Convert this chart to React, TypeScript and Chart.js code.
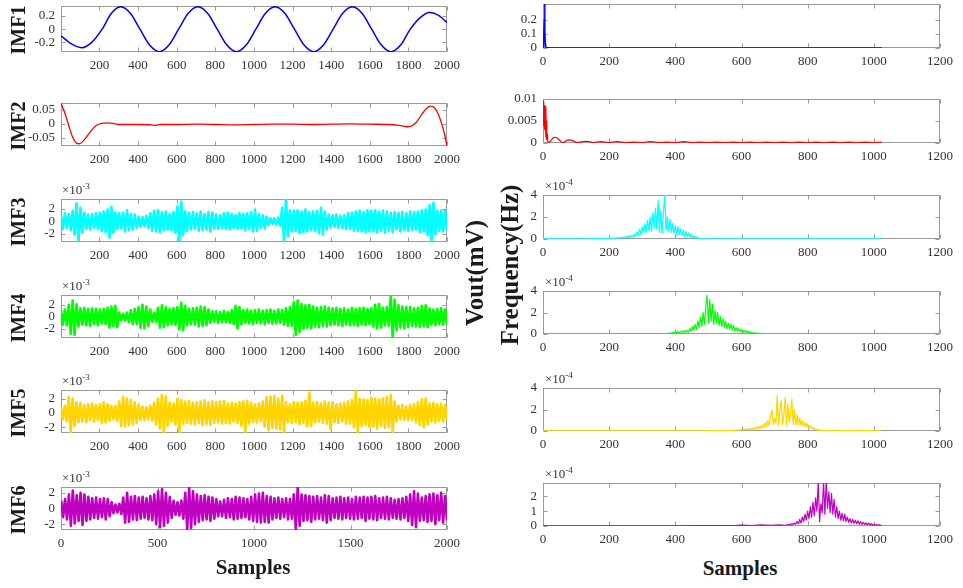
import React, { useEffect, useRef } from 'react';
import { Chart, registerables } from 'chart.js';
Chart.register(...registerables);

const FONT = '"Liberation Serif", "Times New Roman", serif';

// ---------- Left column: IMF time series ----------
const imf1Samples = [1, 60, 110, 160, 214, 262, 310, 360, 410, 460, 510, 560, 610, 660, 710, 760, 810, 860, 910, 960, 1010, 1060, 1110, 1160, 1210, 1260, 1310, 1360, 1410, 1460, 1510, 1560, 1610, 1660, 1710, 1760, 1810, 1860, 1910, 1960, 2000];
const imf1Values = [-0.10, -0.23, -0.28, -0.20, 0.0, 0.24, 0.34, 0.24, 0.0, -0.24, -0.34, -0.24, 0.0, 0.24, 0.34, 0.24, 0.0, -0.24, -0.34, -0.24, 0.0, 0.24, 0.34, 0.24, 0.0, -0.24, -0.34, -0.24, 0.0, 0.24, 0.34, 0.24, 0.0, -0.24, -0.34, -0.24, 0.0, 0.17, 0.25, 0.2, 0.1];

const imf2Samples = [1, 15, 30, 45, 60, 75, 90, 105, 120, 140, 160, 185, 210, 240, 270, 300, 400, 470, 490, 520, 600, 700, 800, 900, 1000, 1100, 1200, 1300, 1400, 1500, 1600, 1700, 1750, 1790, 1810, 1840, 1870, 1895, 1915, 1935, 1955, 1975, 1990, 2000];
const imf2Values = [0.075, 0.05, 0.02, -0.015, -0.045, -0.064, -0.071, -0.068, -0.058, -0.04, -0.022, -0.005, 0.002, 0.004, 0.002, -0.002, -0.002, -0.003, -0.005, -0.002, -0.002, -0.001, -0.002, -0.003, -0.002, -0.001, -0.001, -0.002, -0.001, 0.0, -0.001, -0.002, -0.005, -0.01, -0.009, 0.005, 0.035, 0.056, 0.064, 0.058, 0.035, -0.005, -0.045, -0.079];

// values in units of 1e-3, one every ~10 samples
const imf3Values = [
  1.0, -1.2, 1.3, -1.1, 1.2, -1.4, 1.7, -2.1, 2.9, -3.3,
  2.2, -1.8, 1.4, -1.2, 1.1, -1.3, 1.2, -1.0, 1.3, -1.2,
  1.4, -1.5, 1.6, -1.7, 1.9, -2.6, 2.3, -1.8, 1.4, -1.2,
  1.3, -1.1, 1.4, -1.6, 1.8, -1.4, 1.2, -1.3, 1.1, -1.0,
  0.8, -0.9, 0.7, -0.8, 0.9, -1.0, 1.3, -1.5, 1.7, -1.6,
  1.8, -1.7, 1.5, -1.4, 1.6, -1.3, 1.2, -1.4, 1.5, -1.8,
  2.4, -3.3, 3.2, -2.2, 1.6, -1.5, 1.4, -1.3, 1.5, -1.2,
  1.3, -1.5, 1.6, -1.4, 1.2, -1.3, 1.5, -1.6, 1.4, -1.2,
  1.1, -1.2, 1.0, -1.1, 1.3, -1.2, 1.4, -1.3, 1.2, -1.1,
  1.0, -1.2, 1.3, -1.1, 1.2, -1.4, 1.3, -1.2, 1.5, -1.6,
  1.9, -1.5, 1.2, -1.1, 1.0, -1.2, 0.8, -0.6, 0.5, -0.4,
  0.5, -0.5, 0.6, -0.7, 2.2, -3.3, 3.6, -2.4, 1.8, -1.6,
  1.7, -1.5, 1.8, -1.9, 1.6, -1.7, 1.9, -1.6, 1.5, -1.4,
  1.6, -1.5, 1.7, -1.9, 2.2, -2.1, 1.6, -1.3, 1.1, -1.0,
  1.0, -0.9, 1.1, -1.0, 0.9, -1.1, 1.0, -1.2, 1.3, -1.2,
  1.4, -1.5, 1.6, -1.5, 1.7, -1.6, 1.5, -1.7, 1.8, -1.6,
  1.7, -1.6, 1.8, -1.7, 1.6, -1.5, 1.7, -1.8, 1.6, -1.5,
  1.4, -1.7, 1.5, -1.3, 1.4, -1.6, 1.5, -1.4, 1.3, -1.5,
  1.6, -1.4, 1.5, -1.3, 1.6, -1.7, 1.8, -1.6, 1.9, -2.2,
  2.6, -3.3, 3.0, -2.1, 1.7, -1.5, 1.8, -1.6, 1.7, -1.4,
];

const imf4Values = [
  1.1, -1.3, 1.2, -1.4, 2.0, -2.8, 2.7, -3.0, 2.1, -1.6,
  1.4, -1.3, 1.5, -1.4, 1.3, -1.5, 1.4, -1.2, 1.3, -1.4,
  1.2, -1.1, 1.3, -1.2, 1.5, -1.8, 1.7, -1.6, 1.8, -1.7,
  0.7, -0.6, 0.5, -0.6, 0.7, -0.9, 1.1, -1.2, 1.3, -1.2,
  1.6, -1.8, 2.0, -1.9, 1.7, -1.5, 1.2, -0.8, 0.7, -0.8,
  1.5, -1.8, 1.9, -1.7, 1.6, -1.4, 1.3, -1.2, 1.4, -1.3,
  1.6, -2.1, 2.3, -2.2, 1.8, -1.4, 1.3, -1.2, 1.4, -1.3,
  1.5, -1.6, 1.7, -1.5, 1.6, -1.4, 1.2, -1.0, 0.9, -0.8,
  0.9, -1.0, 0.8, -0.9, 1.0, -0.9, 0.8, -1.0, 1.1, -1.2,
  1.8, -1.9, 1.6, -1.2, 1.1, -1.0, 1.2, -1.1, 1.0, -1.2,
  1.1, -1.0, 1.2, -1.1, 1.0, -1.2, 1.1, -1.0, 1.2, -1.1,
  1.0, -1.1, 1.2, -1.0, 1.1, -1.3, 1.4, -1.5, 1.6, -1.5,
  2.4, -3.0, 2.7, -2.5, 2.1, -2.0, 1.9, -1.8, 2.0, -1.9,
  1.7, -1.6, 1.5, -1.7, 1.6, -1.5, 1.7, -1.6, 1.5, -1.4,
  1.4, -1.3, 1.5, -1.4, 1.3, -1.5, 1.4, -1.3, 1.2, -1.4,
  1.5, -1.4, 1.3, -1.5, 1.4, -1.3, 1.5, -1.4, 1.3, -1.2,
  1.4, -1.6, 2.0, -1.9, 2.1, -1.8, 1.5, -1.4, 1.6, -1.5,
  3.4, -3.5, 2.8, -2.2, 1.9, -1.8, 1.7, -1.9, 1.6, -1.7,
  1.6, -1.5, 1.4, -1.6, 1.5, -1.7, 1.8, -1.6, 1.9, -1.7,
  1.4, -1.3, 1.2, -1.4, 1.3, -1.2, 1.4, -1.3, 1.2, -1.3,
];

const imf5Values = [
  0.8, -0.9, 1.0, -1.2, 2.2, -2.7, 2.0, -1.8, 1.5, -1.3,
  1.4, -1.2, 1.1, -1.3, 1.2, -1.0, 1.3, -1.2, 1.1, -1.0,
  1.2, -1.4, 1.5, -1.3, 1.2, -1.1, 1.0, -0.9, 1.0, -1.1,
  1.6, -1.8, 2.2, -1.9, 2.0, -1.7, 1.8, -1.6, 1.5, -1.4,
  1.2, -1.0, 0.9, -1.0, 0.8, -0.9, 1.0, -1.1, 1.4, -1.6,
  2.0, -2.2, 2.5, -2.7, 2.3, -1.8, 1.4, -1.2, 1.3, -1.6,
  2.0, -2.6, 1.8, -1.5, 1.6, -1.4, 1.7, -1.5, 1.4, -1.6,
  1.5, -1.4, 1.6, -1.7, 1.8, -1.6, 1.5, -1.7, 1.6, -1.4,
  1.5, -1.3, 1.6, -1.5, 1.7, -1.4, 1.3, -1.5, 1.4, -1.2,
  1.3, -1.4, 1.5, -1.8, 1.6, -2.6, 1.7, -1.5, 1.4, -1.3,
  1.2, -1.4, 1.3, -1.2, 1.6, -1.9, 2.2, -2.4, 2.3, -2.1,
  2.4, -2.2, 2.0, -2.3, 2.4, -2.7, 1.5, -1.3, 1.2, -1.4,
  1.5, -1.3, 1.4, -1.6, 1.5, -1.4, 1.7, -1.9, 2.8, -1.8,
  1.4, -1.3, 1.5, -1.2, 1.3, -1.4, 1.6, -1.5, 1.4, -2.3,
  1.5, -1.3, 1.2, -1.4, 1.3, -1.2, 1.4, -1.5, 1.6, -1.5,
  1.8, -2.0, 3.2, -2.7, 2.0, -1.8, 1.9, -1.7, 1.8, -2.0,
  2.1, -1.9, 2.0, -2.2, 1.9, -1.8, 2.0, -2.1, 2.2, -2.0,
  2.5, -2.7, 1.6, -1.2, 1.0, -0.9, 1.1, -1.0, 0.9, -1.0,
  1.1, -1.0, 1.2, -1.3, 1.5, -1.7, 1.9, -2.0, 2.0, -1.6,
  1.3, -1.2, 1.4, -1.3, 1.2, -1.1, 1.3, -1.2, 1.1, -1.0,
];

const imf6Values = [
  1.0, -1.1, 1.2, -1.4, 1.8, -2.2, 2.3, -1.9, 1.7, -1.6,
  2.0, -2.1, 1.8, -1.6, 1.5, -1.4, 1.3, -1.2, 1.4, -1.3,
  1.2, -1.1, 1.3, -1.4, 1.2, -1.0, 0.8, -0.6, 0.5, -0.5,
  0.6, -0.7, 1.4, -1.8, 2.0, -1.7, 1.5, -1.4, 1.6, -1.5,
  1.4, -1.3, 1.5, -1.2, 1.3, -1.4, 1.6, -1.5, 1.8, -2.0,
  2.2, -2.4, 2.5, -2.2, 2.0, -1.8, 1.5, -1.2, 1.0, -0.8,
  0.8, -0.9, 1.0, -1.3, 2.0, -2.6, 2.7, -2.5, 2.2, -2.0,
  1.8, -1.7, 1.6, -1.5, 1.7, -1.4, 1.5, -1.6, 1.4, -1.3,
  1.2, -1.0, 0.9, -1.0, 1.1, -1.2, 1.3, -1.1, 1.2, -1.4,
  1.5, -1.3, 1.4, -1.2, 1.3, -1.1, 1.2, -1.4, 1.5, -1.6,
  1.8, -1.7, 1.9, -1.8, 2.0, -1.7, 1.6, -1.8, 1.5, -1.4,
  1.3, -1.2, 1.4, -1.3, 1.2, -1.1, 1.3, -1.4, 1.2, -1.3,
  1.8, -2.6, 2.7, -2.2, 1.8, -1.6, 1.7, -1.5, 1.6, -1.7,
  1.5, -1.4, 1.6, -1.3, 1.4, -1.5, 1.7, -1.8, 1.6, -1.5,
  1.3, -1.2, 1.4, -1.3, 1.5, -1.4, 1.3, -1.2, 1.4, -1.3,
  1.2, -1.4, 1.5, -1.3, 1.4, -1.2, 1.5, -1.6, 1.4, -1.3,
  1.5, -1.4, 1.6, -1.5, 1.3, -1.2, 1.4, -1.3, 1.5, -1.4,
  1.3, -1.2, 1.1, -1.3, 1.2, -1.4, 1.3, -1.2, 1.5, -1.6,
  1.8, -2.1, 2.2, -2.4, 1.9, -1.6, 1.4, -1.5, 1.6, -1.7,
  1.8, -1.6, 1.9, -2.0, 1.7, -1.5, 2.0, -1.8, 1.6, -1.5,
];

// ---------- Right column: spectra ----------
const spec1Bins = [0, 1, 2, 3, 4, 5, 6, 7, 8, 10, 14, 20, 40, 100, 300, 600, 1024];
const spec1Values = [0.002, 0.01, 0.02, 0.06, 0.2, 0.31, 0.12, 0.03, 0.01, 0.004, 0.002, 0.001, 0.0005, 0.0003, 0.0003, 0.0002, 0.0002];

const spec2Bins = [0, 1, 2, 3, 4, 5, 6, 7, 8, 9, 10, 11, 12, 13, 14, 16, 20, 24, 30, 36, 42, 48, 54, 60, 66, 72, 80, 88, 96, 104, 112, 120, 130, 140, 150, 175, 200, 225, 250, 275, 300, 325, 350, 375, 400, 425, 450, 475, 500, 525, 550, 575, 600, 625, 650, 675, 700, 725, 750, 775, 800, 825, 850, 875, 900, 925, 950, 975, 1000, 1024];
const spec2Values = [0.004, 0.0095, 0.006, 0.009, 0.004, 0.0085, 0.003, 0.008, 0.0015, 0.0082, 0.001, 0.005, 0.0008, 0.002, 0.0005, 0.0002, 0.0002, 0.0006, 0.0011, 0.0013, 0.0012, 0.0008, 0.0003, 0.0001, 0.0003, 0.0006, 0.0007, 0.0006, 0.0003, 0.0001, 0.0002, 0.0003, 0.0004, 0.0003, 0.0001, 0.0003, 0.0001, 0.0003, 0.0001, 0.0002, 0.0001, 0.0003, 0.0001, 0.0002, 0.0001, 0.0003, 0.0001, 0.0002, 0.0001, 0.0002, 0.0001, 0.0002, 0.0001, 0.0002, 0.0001, 0.0002, 0.0001, 0.0002, 0.0001, 0.0002, 0.0001, 0.0002, 0.0001, 0.0002, 0.0001, 0.0002, 0.0001, 0.0002, 0.0001, 0.0002];

// spectra of IMF3..IMF6 (units of 1e-4): quiet baseline points + a dense band every 4 bins
const spec3PreBins = [0, 40, 80, 120, 160, 190];
const spec3PreValues = [0.01, 0.02, 0.01, 0.02, 0.03, 0.04];
const spec3BandStart = 196;
const spec3Band = [
  0.05, 0.02, 0.07, 0.03, 0.08, 0.04, 0.10, 0.05, 0.12, 0.06,
  0.15, 0.07, 0.18, 0.10, 0.22, 0.12, 0.28, 0.14, 0.35, 0.18,
  0.45, 0.2, 0.65, 0.3, 0.9, 0.4, 1.1, 0.5, 1.4, 0.6,
  1.7, 0.8, 2.0, 0.7, 2.4, 1.0, 2.8, 0.9, 3.5, 0.6,
  2.6, 0.5, 2.4, 4.0, 0.8, 2.0, 0.7, 1.8, 0.6, 1.4,
  0.5, 1.2, 0.4, 1.1, 0.4, 0.9, 0.3, 0.8, 0.25, 0.7,
  0.2, 0.55, 0.15, 0.45, 0.1, 0.3, 0.08, 0.2, 0.05, 0.1,
  0.03, 0.04,
];
const spec3PostBins = [500, 560, 640, 720, 800, 900, 1024];
const spec3PostValues = [0.02, 0.01, 0.01, 0.005, 0.005, 0.003, 0.003];

const spec4PreBins = [0, 60, 120, 200, 280, 340, 376];
const spec4PreValues = [0.01, 0.02, 0.01, 0.02, 0.03, 0.03, 0.04];
const spec4BandStart = 380;
const spec4Band = [
  0.05, 0.1, 0.04, 0.15, 0.06, 0.2, 0.08, 0.25, 0.1, 0.2,
  0.28, 0.12, 0.3, 0.15, 0.35, 0.18, 0.5, 0.25, 0.7, 0.35,
  0.9, 0.4, 1.2, 0.6, 1.6, 0.7, 2.0, 0.9, 2.6, 3.6,
  1.0, 3.2, 1.2, 2.8, 0.9, 2.2, 1.0, 2.0, 0.8, 1.6,
  0.7, 1.4, 0.6, 1.2, 0.5, 1.0, 0.45, 0.9, 0.35, 0.8,
  0.3, 0.6, 0.25, 0.5, 0.2, 0.4, 0.15, 0.35, 0.12, 0.3,
  0.1, 0.25, 0.08, 0.15, 0.06, 0.12, 0.05, 0.1, 0.03, 0.06,
];
const spec4PostBins = [680, 760, 860, 960, 1024];
const spec4PostValues = [0.02, 0.01, 0.01, 0.005, 0.005];

const spec5PreBins = [0, 100, 200, 300, 400, 480, 530, 556];
const spec5PreValues = [0.005, 0.01, 0.01, 0.005, 0.01, 0.02, 0.03, 0.04];
const spec5BandStart = 560;
const spec5Band = [
  0.05, 0.02, 0.06, 0.03, 0.08, 0.04, 0.1, 0.05, 0.12, 0.06,
  0.15, 0.07, 0.18, 0.08, 0.2, 0.1, 0.25, 0.12, 0.3, 0.15,
  0.35, 0.15, 0.4, 0.2, 0.45, 0.25, 0.6, 0.3, 0.8, 0.4,
  1.0, 0.5, 1.4, 2.0, 0.6, 1.2, 0.7, 3.3, 0.5, 2.0,
  2.8, 0.6, 1.5, 3.1, 0.5, 2.5, 0.8, 1.6, 3.0, 0.6,
  2.0, 0.5, 1.5, 0.6, 1.2, 0.5, 1.0, 0.4, 0.8, 0.35,
  0.7, 0.3, 0.5, 0.2, 0.35, 0.15, 0.25, 0.08, 0.12, 0.05,
  0.08, 0.03, 0.05, 0.02, 0.03,
];
const spec5PostBins = [880, 900, 920, 950, 980, 1000, 1024];
const spec5PostValues = [0.02, 0.04, 0.03, 0.05, 0.03, 0.02, 0.01];

const spec6PreBins = [0, 100, 200, 300, 400, 500, 580, 600, 630, 660, 690, 715, 730];
const spec6PreValues = [0.01, 0.01, 0.01, 0.01, 0.015, 0.02, 0.03, 0.06, 0.03, 0.07, 0.05, 0.08, 0.05];
const spec6BandStart = 740;
const spec6Band = [
  0.08, 0.12, 0.06, 0.15, 0.1, 0.2, 0.12, 0.3, 0.15, 0.45,
  0.2, 0.6, 0.3, 0.8, 0.4, 1.0, 0.5, 1.3, 0.6, 1.6,
  0.7, 1.9, 1.0, 3.0, 0.3, 1.5, 0.9, 3.0, 0.8, 3.0,
  1.2, 2.3, 0.9, 2.2, 0.8, 1.8, 0.6, 1.3, 0.5, 1.0,
  0.4, 0.85, 0.35, 0.8, 0.3, 0.6, 0.25, 0.5, 0.2, 0.45,
  0.18, 0.38, 0.15, 0.35, 0.12, 0.3, 0.1, 0.25, 0.1, 0.22,
  0.08, 0.2, 0.07, 0.15, 0.06, 0.12, 0.05, 0.1, 0.04, 0.08,
  0.05, 0.04,
];
const spec6PostBins: number[] = [];
const spec6PostValues: number[] = [];

// ---------- ticks ----------
const sampleTicks = [200, 400, 600, 800, 1000, 1200, 1400, 1600, 1800, 2000];
const sampleTicks6 = [0, 500, 1000, 1500, 2000];
const freqTicks = [0, 200, 400, 600, 800, 1000, 1200];

const imfNames = ['IMF1', 'IMF2', 'IMF3', 'IMF4', 'IMF5', 'IMF6'];
const imfColors = ['#0000ff', '#ff0000', '#00ffff', '#00ff00', '#ffd400', '#c000c0'];

type Pt = { x: number; y: number };
const pairs = (xs: number[], ys: number[]): Pt[] => xs.map((x, i) => ({ x, y: ys[i] }));
const evenly = (ys: number[], start: number, end: number): Pt[] =>
  ys.map((y, i) => ({ x: start + (i * (end - start)) / (ys.length - 1), y }));
const band = (pre: Pt[], start: number, vals: number[], post: Pt[]): Pt[] => [
  ...pre,
  ...vals.map((y, i) => ({ x: start + i * 4, y })),
  ...post,
];

const PADL = 50, PADR = 22, PADT = 10, PADB = 26;

type Panel = {
  left: number; top: number; width: number; height: number;
  xMin: number; xMax: number; xTicks: number[];
  yMin: number; yMax: number; yTicks: number[];
  points: Pt[]; color: string; lineWidth: number; smooth?: boolean;
};

const framePlugin = {
  id: 'matlabFrame',
  beforeDatasetsDraw(chart: any, _args: any, opts: any) {
    const { ctx, chartArea: a, scales } = chart;
    const L = Math.round(a.left) + 0.5, R = Math.round(a.right) - 0.5;
    const T = Math.round(a.top) + 0.5, B = Math.round(a.bottom) - 0.5;
    ctx.save();
    ctx.strokeStyle = '#9a9a9a';
    ctx.lineWidth = 1;
    ctx.strokeRect(L, T, R - L, B - T);
    ctx.beginPath();
    for (const v of opts.xTicks as number[]) {
      const px = Math.round(scales.x.getPixelForValue(v)) + 0.5;
      ctx.moveTo(px, B); ctx.lineTo(px, B - 4);
      ctx.moveTo(px, T); ctx.lineTo(px, T + 4);
    }
    for (const v of opts.yTicks as number[]) {
      const py = Math.round(scales.y.getPixelForValue(v)) + 0.5;
      ctx.moveTo(L, py); ctx.lineTo(L + 4, py);
      ctx.moveTo(R, py); ctx.lineTo(R - 4, py);
    }
    ctx.stroke();
    ctx.restore();
  },
};

function PanelChart({ p }: { p: Panel }) {
  const ref = useRef<HTMLCanvasElement>(null);
  const W = p.width + PADL + PADR;
  const H = p.height + PADT + PADB;
  useEffect(() => {
    const tickFont = { family: FONT, size: 13 };
    const chart = new Chart(ref.current as HTMLCanvasElement, {
      type: 'line',
      data: {
        datasets: [
          {
            data: p.points as any,
            borderColor: p.color,
            borderWidth: p.lineWidth,
            pointRadius: 0,
            fill: false,
            tension: 0,
            cubicInterpolationMode: p.smooth ? 'monotone' : 'default',
            borderJoinStyle: 'round',
          },
        ],
      },
      options: {
        responsive: false,
        animation: false,
        events: [],
        layout: { padding: { left: 0, right: PADR, top: PADT, bottom: 0 } },
        plugins: {
          legend: { display: false },
          tooltip: { enabled: false },
          matlabFrame: { xTicks: p.xTicks, yTicks: p.yTicks },
        } as any,
        scales: {
          x: {
            type: 'linear',
            min: p.xMin,
            max: p.xMax,
            grid: { display: false, drawTicks: false },
            border: { display: false },
            ticks: {
              font: tickFont, color: '#333', padding: 6, maxRotation: 0, autoSkip: false,
              callback: (v: any) => String(v),
            },
            afterBuildTicks: (s: any) => { s.ticks = p.xTicks.map((v) => ({ value: v })); },
            afterFit: (s: any) => { s.height = PADB; s.paddingLeft = 0; s.paddingRight = 0; },
          },
          y: {
            type: 'linear',
            min: p.yMin,
            max: p.yMax,
            grid: { display: false, drawTicks: false },
            border: { display: false },
            ticks: {
              font: tickFont, color: '#333', padding: 6, autoSkip: false,
              callback: (v: any) => String(v),
            },
            afterBuildTicks: (s: any) => { s.ticks = p.yTicks.map((v) => ({ value: v })); },
            afterFit: (s: any) => { s.width = PADL; s.paddingTop = 0; s.paddingBottom = 0; },
          },
        },
      } as any,
      plugins: [framePlugin],
    });
    return () => chart.destroy();
  }, [p]);
  return (
    <canvas
      ref={ref}
      width={W}
      height={H}
      style={{ position: 'absolute', left: p.left - PADL, top: p.top - PADT, width: W, height: H }}
    />
  );
}

const leftBoxes = [
  { top: 6, height: 46 }, { top: 103, height: 43 }, { top: 199, height: 43 },
  { top: 295, height: 43 }, { top: 390, height: 43 }, { top: 487, height: 43 },
];
const rightBoxes = [
  { top: 4, height: 44 }, { top: 99, height: 44 }, { top: 195, height: 44 },
  { top: 291, height: 43 }, { top: 388, height: 43 }, { top: 483, height: 43 },
];

const LEFT_X = 61, LEFT_W = 386, RIGHT_X = 543, RIGHT_W = 397;
const DENSE_W = 2.6;

const leftPanels: Panel[] = [
  { ...leftBoxes[0], left: LEFT_X, width: LEFT_W, xMin: 1, xMax: 2000, xTicks: sampleTicks, yMin: -0.345, yMax: 0.35, yTicks: [-0.2, 0, 0.2], points: pairs(imf1Samples, imf1Values), color: imfColors[0], lineWidth: 1.5, smooth: true },
  { ...leftBoxes[1], left: LEFT_X, width: LEFT_W, xMin: 1, xMax: 2000, xTicks: sampleTicks, yMin: -0.079, yMax: 0.075, yTicks: [-0.05, 0, 0.05], points: pairs(imf2Samples, imf2Values), color: imfColors[1], lineWidth: 1.3, smooth: true },
  { ...leftBoxes[2], left: LEFT_X, width: LEFT_W, xMin: 1, xMax: 2000, xTicks: sampleTicks, yMin: -3.3, yMax: 3.6, yTicks: [-2, 0, 2], points: evenly(imf3Values, 1, 2000), color: imfColors[2], lineWidth: DENSE_W },
  { ...leftBoxes[3], left: LEFT_X, width: LEFT_W, xMin: 1, xMax: 2000, xTicks: sampleTicks, yMin: -3.5, yMax: 3.6, yTicks: [-2, 0, 2], points: evenly(imf4Values, 1, 2000), color: imfColors[3], lineWidth: DENSE_W },
  { ...leftBoxes[4], left: LEFT_X, width: LEFT_W, xMin: 1, xMax: 2000, xTicks: sampleTicks, yMin: -2.8, yMax: 3.2, yTicks: [-2, 0, 2], points: evenly(imf5Values, 1, 2000), color: imfColors[4], lineWidth: DENSE_W },
  { ...leftBoxes[5], left: LEFT_X, width: LEFT_W, xMin: 0, xMax: 2000, xTicks: sampleTicks6, yMin: -2.75, yMax: 2.75, yTicks: [-2, 0, 2], points: evenly(imf6Values, 1, 2000), color: imfColors[5], lineWidth: DENSE_W },
];

const rightPanels: Panel[] = [
  { ...rightBoxes[0], left: RIGHT_X, width: RIGHT_W, xMin: 0, xMax: 1200, xTicks: freqTicks, yMin: 0, yMax: 0.31, yTicks: [0, 0.1, 0.2], points: pairs(spec1Bins, spec1Values), color: imfColors[0], lineWidth: 1.5 },
  { ...rightBoxes[1], left: RIGHT_X, width: RIGHT_W, xMin: 0, xMax: 1200, xTicks: freqTicks, yMin: 0, yMax: 0.01, yTicks: [0, 0.005, 0.01], points: pairs(spec2Bins, spec2Values), color: imfColors[1], lineWidth: 1.2 },
  { ...rightBoxes[2], left: RIGHT_X, width: RIGHT_W, xMin: 0, xMax: 1200, xTicks: freqTicks, yMin: 0, yMax: 4, yTicks: [0, 2, 4], points: band(pairs(spec3PreBins, spec3PreValues), spec3BandStart, spec3Band, pairs(spec3PostBins, spec3PostValues)), color: imfColors[2], lineWidth: 1.2 },
  { ...rightBoxes[3], left: RIGHT_X, width: RIGHT_W, xMin: 0, xMax: 1200, xTicks: freqTicks, yMin: 0, yMax: 4, yTicks: [0, 2, 4], points: band(pairs(spec4PreBins, spec4PreValues), spec4BandStart, spec4Band, pairs(spec4PostBins, spec4PostValues)), color: imfColors[3], lineWidth: 1.2 },
  { ...rightBoxes[4], left: RIGHT_X, width: RIGHT_W, xMin: 0, xMax: 1200, xTicks: freqTicks, yMin: 0, yMax: 4, yTicks: [0, 2, 4], points: band(pairs(spec5PreBins, spec5PreValues), spec5BandStart, spec5Band, pairs(spec5PostBins, spec5PostValues)), color: imfColors[4], lineWidth: 1.2 },
  { ...rightBoxes[5], left: RIGHT_X, width: RIGHT_W, xMin: 0, xMax: 1200, xTicks: freqTicks, yMin: 0, yMax: 2.9, yTicks: [0, 1, 2], points: band(pairs(spec6PreBins, spec6PreValues), spec6BandStart, spec6Band, pairs(spec6PostBins, spec6PostValues)), color: imfColors[5], lineWidth: 1.2 },
];

const Exp = ({ left, top, exp }: { left: number; top: number; exp: string }) => (
  <div style={{ position: 'absolute', left, top, fontFamily: FONT, fontSize: 13, color: '#333', lineHeight: '14px', whiteSpace: 'nowrap' }}>
    ×10<span style={{ fontSize: 9, position: 'relative', top: -5 }}>{exp}</span>
  </div>
);

const Rot = ({ cx, cy, size, text }: { cx: number; cy: number; size: number; text: string }) => (
  <div
    style={{
      position: 'absolute', left: cx, top: cy, transform: 'translate(-50%, -50%) rotate(-90deg)',
      fontFamily: FONT, fontWeight: 'bold', fontSize: size, color: '#1a1a1a', whiteSpace: 'nowrap', lineHeight: 1,
    }}
  >
    {text}
  </div>
);

export default function App() {
  return (
    <div style={{ position: 'absolute', left: 0, top: 0, width: 963, height: 588, background: '#fff', overflow: 'hidden' }}>
      {leftPanels.map((p, i) => <PanelChart key={'l' + i} p={p} />)}
      {rightPanels.map((p, i) => <PanelChart key={'r' + i} p={p} />)}
      {imfNames.map((n, i) => (
        <Rot key={n} cx={18} cy={leftBoxes[i].top + leftBoxes[i].height / 2 + 1} size={20} text={n} />
      ))}
      {[2, 3, 4, 5].map((i) => <Exp key={'el' + i} left={62} top={leftBoxes[i].top - 16} exp="-3" />)}
      {[2, 3, 4, 5].map((i) => <Exp key={'er' + i} left={545} top={rightBoxes[i].top - 16} exp="-4" />)}
      <Rot cx={474} cy={273} size={25} text="Vout(mV)" />
      <Rot cx={509} cy={265} size={25} text="Frequency(Hz)" />
      <div style={{ position: 'absolute', left: 253, top: 567, transform: 'translate(-50%, -50%)', fontFamily: FONT, fontWeight: 'bold', fontSize: 21, color: '#1a1a1a', whiteSpace: 'nowrap' }}>Samples</div>
      <div style={{ position: 'absolute', left: 740, top: 568, transform: 'translate(-50%, -50%)', fontFamily: FONT, fontWeight: 'bold', fontSize: 21, color: '#1a1a1a', whiteSpace: 'nowrap' }}>Samples</div>
    </div>
  );
}
